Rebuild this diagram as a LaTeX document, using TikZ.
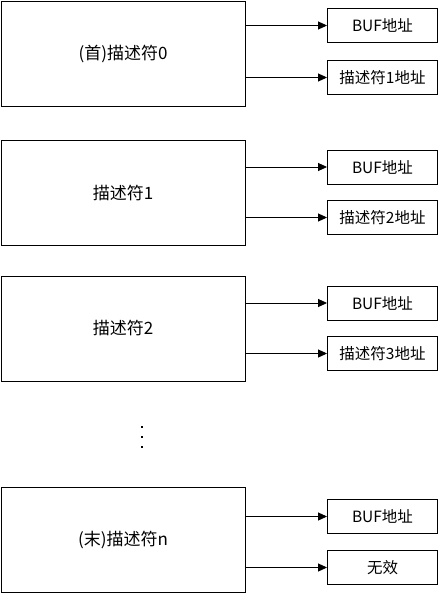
\documentclass[tikz,border=0pt]{standalone}
\usepackage{fontspec}
\setmainfont{Noto Sans CJK SC}
\usetikzlibrary{arrows.meta}
\begin{document}
\begin{tikzpicture}[x=1pt,y=-1pt,
  bigbox/.style={draw,line width=0.9pt,minimum width=244pt,minimum height=105pt,inner sep=0pt,font=\fontsize{17}{20}\selectfont},
  smallbox/.style={draw,line width=0.9pt,minimum width=110pt,minimum height=34pt,inner sep=0pt,font=\fontsize{15.5}{18}\selectfont},
  conn/.style={line width=0.9pt,-{Triangle[length=9pt,width=8pt]}}]
\useasboundingbox (0,0) rectangle (440,594);
\fill[white] (0,0) rectangle (440,594);
\newcommand{\grp}[6]{%
  % #1 name, #2 centre y, #3 label, #4 y arrow1, #5 y arrow2, #6 label2
  \node[bigbox] (#1) at (123,#2) {#3};
  \node[smallbox] (#1a) at (382.5,#4) {BUF地址};
  \node[smallbox] (#1b) at (382.5,#5) {#6};
  \draw[conn] (#1.east |- #1a) -- (#1a.west);
  \draw[conn] (#1.east |- #1b) -- (#1b.west);
}
\grp{d0}{53.5}{(首)描述符0}{25.5}{77.5}{描述符1地址}
\grp{d1}{193}{描述符1}{167}{217.5}{描述符2地址}
\grp{d2}{328.5}{描述符2}{303}{353.5}{描述符3地址}
\grp{dn}{539.5}{(末)描述符n}{516.5}{567.5}{无效}
\node[fill,inner sep=0pt,minimum size=2pt] (p1) at (141.5,427) {};
\node[fill,inner sep=0pt,minimum size=2pt] (p2) at (141.5,437) {};
\node[fill,inner sep=0pt,minimum size=2pt] (p3) at (141.5,447) {};
\end{tikzpicture}
\end{document}
